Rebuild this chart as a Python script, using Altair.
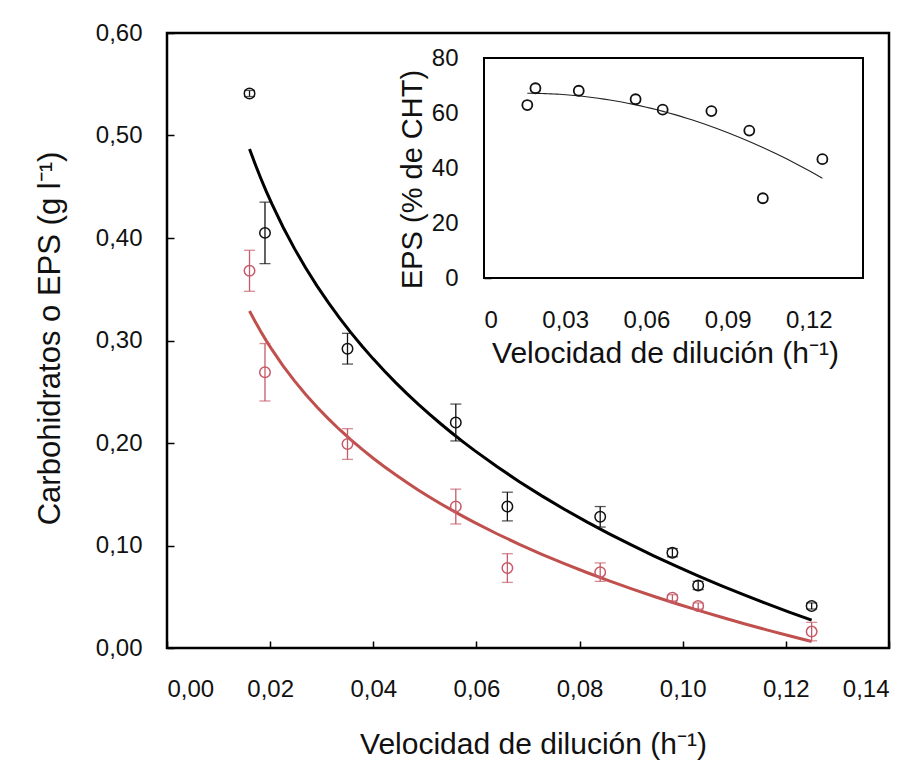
import altair as alt
import pandas as pd

# ---- data ----
dil = [0.016, 0.019, 0.035, 0.056, 0.066, 0.084, 0.098, 0.103, 0.125]
cht = [0.541, 0.405, 0.292, 0.220, 0.138, 0.128, 0.093, 0.061, 0.041]
cht_err = [0.003, 0.030, 0.015, 0.018, 0.014, 0.010, 0.004, 0.004, 0.003]
eps = [0.368, 0.269, 0.199, 0.138, 0.078, 0.074, 0.049, 0.041, 0.016]
eps_err = [0.020, 0.028, 0.015, 0.017, 0.014, 0.009, 0.003, 0.003, 0.009]
eps_pct = [62.9, 69.0, 68.1, 65.0, 61.2, 60.7, 53.6, 29.0, 43.2]

x_ticks = [0.0, 0.02, 0.04, 0.06, 0.08, 0.10, 0.12, 0.14]
y_ticks = [0.0, 0.1, 0.2, 0.3, 0.4, 0.5, 0.6]
ix_ticks = [0.0, 0.03, 0.06, 0.09, 0.12]
iy_ticks = [0, 20, 40, 60, 80]

FONT = "Liberation Sans"
W, H = 722, 615
BLACK = "#111111"
RED_LINE = "#c0504d"
RED_PT = "#c65a68"

df_c = pd.DataFrame({"x": dil, "y": cht, "lo": [v - e for v, e in zip(cht, cht_err)],
                     "hi": [v + e for v, e in zip(cht, cht_err)]})
df_e = pd.DataFrame({"x": dil, "y": eps, "lo": [v - e for v, e in zip(eps, eps_err)],
                     "hi": [v + e for v, e in zip(eps, eps_err)]})
df_i = pd.DataFrame({"x": dil, "y": eps_pct})

fmt2 = "replace(format(datum.value, '.2f'), '.', ',')"

xs = alt.Scale(domain=[0, 0.14], nice=False, zero=False)
ys = alt.Scale(domain=[0, 0.6], nice=False, zero=False)

x_lab_axis = alt.Axis(orient="bottom", values=x_ticks, labelExpr=fmt2, ticks=False, tickSize=0,
                      domain=False, grid=False, labelPadding=29, labelFontSize=24,
                      title="Velocidad de dilución (h⁻¹)", titleX=366, titleY=105,
                      titleBaseline="alphabetic", titleFontSize=30)
y_lab_axis = alt.Axis(orient="left", values=y_ticks, labelExpr=fmt2, ticks=False, tickSize=0,
                      domain=False, grid=False, labelPadding=25, labelFontSize=24,
                      title="Carbohidratos o EPS (g l⁻¹)", titleX=-108, titleY=305,
                      titleBaseline="alphabetic", titleFontSize=31, titleAngle=-90)
x_tick_axis = alt.Axis(orient="top", offset=-H, values=x_ticks, labels=False, domain=False,
                       grid=False, tickSize=7, tickWidth=1.5, tickColor="black", title=None)
y_tick_axis = alt.Axis(orient="right", offset=-W, values=y_ticks, labels=False, domain=False,
                       grid=False, tickSize=7, tickWidth=1.5, tickColor="black", title=None)

ticks_layer = alt.Chart(df_c).mark_point(opacity=0).encode(
    x=alt.X("x:Q", scale=xs, axis=x_tick_axis),
    y=alt.Y("y:Q", scale=ys, axis=y_tick_axis),
)
labels_layer = alt.Chart(df_c).mark_point(opacity=0).encode(
    x=alt.X("x:Q", scale=xs, axis=x_lab_axis),
    y=alt.Y("y:Q", scale=ys, axis=y_lab_axis),
)


def series(df, line_color, pt_color):
    base = alt.Chart(df)
    line = base.transform_regression("x", "y", method="log", extent=[0.016, 0.125]).mark_line(
        color=line_color, strokeWidth=3).encode(
        x=alt.X("x:Q", scale=xs, axis=None), y=alt.Y("y:Q", scale=ys, axis=None))
    bar = base.mark_rule(color=pt_color, strokeWidth=1.3).encode(
        x=alt.X("x:Q", scale=xs, axis=None), y=alt.Y("lo:Q", scale=ys, axis=None), y2="hi:Q")
    cap_lo = base.mark_tick(orient="horizontal", size=11, thickness=1.3, color=pt_color).encode(
        x=alt.X("x:Q", scale=xs, axis=None), y=alt.Y("lo:Q", scale=ys, axis=None))
    cap_hi = base.mark_tick(orient="horizontal", size=11, thickness=1.3, color=pt_color).encode(
        x=alt.X("x:Q", scale=xs, axis=None), y=alt.Y("hi:Q", scale=ys, axis=None))
    pts = base.mark_point(shape="circle", size=110, filled=False, color=pt_color,
                          strokeWidth=1.5, opacity=1).encode(
        x=alt.X("x:Q", scale=xs, axis=None), y=alt.Y("y:Q", scale=ys, axis=None))
    return [line, bar, cap_lo, cap_hi, pts]


main = alt.layer(ticks_layer, labels_layer,
                 *series(df_e, RED_LINE, RED_PT),
                 *series(df_c, "#000000", BLACK)).resolve_axis(x="independent", y="independent")

# ---- inset ----
IX0, IX1 = 317, 696   # pixel range inside the main plot area
IY0, IY1 = 245, 25
ixs = alt.Scale(domain=[0, 0.14], range=[IX0, IX1], nice=False, zero=False)
iys = alt.Scale(domain=[0, 80], range=[IY0, IY1], nice=False, zero=False)

ix_lab_axis = alt.Axis(orient="bottom", offset=-(H - IY0), values=ix_ticks,
                       labelExpr="datum.value == 0 ? '0' : " + fmt2, ticks=False, tickSize=0,
                       domain=False, grid=False, labelPadding=30, labelFontSize=24,
                       title="Velocidad de dilución (h⁻¹)", titleX=498, titleY=84,
                       titleBaseline="alphabetic", titleFontSize=30)
iy_lab_axis = alt.Axis(orient="left", offset=-IX0, values=iy_ticks, ticks=False, tickSize=0,
                       domain=False, grid=False, labelPadding=26, labelFontSize=24,
                       title="EPS (% de CHT)", titleX=-63, titleY=146, titleAngle=-90,
                       titleBaseline="alphabetic", titleFontSize=29)
ix_tick_axis = alt.Axis(orient="top", offset=-IY0, values=ix_ticks, labels=False, domain=False,
                        grid=False, tickSize=7, tickWidth=1.5, tickColor="black", title=None)
iy_tick_axis = alt.Axis(orient="right", offset=-(W - IX0), values=iy_ticks, labels=False,
                        domain=False, grid=False, tickSize=7, tickWidth=1.5, tickColor="black",
                        title=None)

frame = alt.Chart(pd.DataFrame({"a": [0]})).mark_rect(fill="white", stroke="black",
                                                      strokeWidth=2).encode(
    x=alt.datum(0.0, scale=ixs, axis=None), x2=alt.datum(0.14),
    y=alt.datum(0, scale=iys, axis=None), y2=alt.datum(80))
iticks = alt.Chart(df_i).mark_point(opacity=0).encode(
    x=alt.X("x:Q", scale=ixs, axis=ix_tick_axis), y=alt.Y("y:Q", scale=iys, axis=iy_tick_axis))
ilabels = alt.Chart(df_i).mark_point(opacity=0).encode(
    x=alt.X("x:Q", scale=ixs, axis=ix_lab_axis), y=alt.Y("y:Q", scale=iys, axis=iy_lab_axis))
iline = alt.Chart(df_i).transform_regression("x", "y", method="poly", order=2).mark_line(
    color="#222222", strokeWidth=1.1).encode(
    x=alt.X("x:Q", scale=ixs, axis=None), y=alt.Y("y:Q", scale=iys, axis=None))
ipts = alt.Chart(df_i).mark_point(shape="circle", size=100, filled=False, color="#111111",
                                  strokeWidth=1.8, opacity=1).encode(
    x=alt.X("x:Q", scale=ixs, axis=None), y=alt.Y("y:Q", scale=iys, axis=None))

inset = alt.layer(frame, iticks, ilabels, iline, ipts).resolve_axis(x="independent", y="independent")

chart = alt.layer(main, inset).resolve_scale(x="independent", y="independent").resolve_axis(
    x="independent", y="independent").properties(
    width=W, height=H,
    autosize=alt.AutoSizeParams(type="none"),
    padding={"left": 167, "top": 33, "right": 921 - 167 - W, "bottom": 760 - 33 - H},
    background="white",
).configure_view(stroke="black", strokeWidth=2.5).configure_axis(
    labelFont=FONT, titleFont=FONT, labelColor="#111111", titleColor="#111111",
    titleFontWeight="normal")

chart.save("out.html", embed_options={"renderer": "svg", "actions": False})
